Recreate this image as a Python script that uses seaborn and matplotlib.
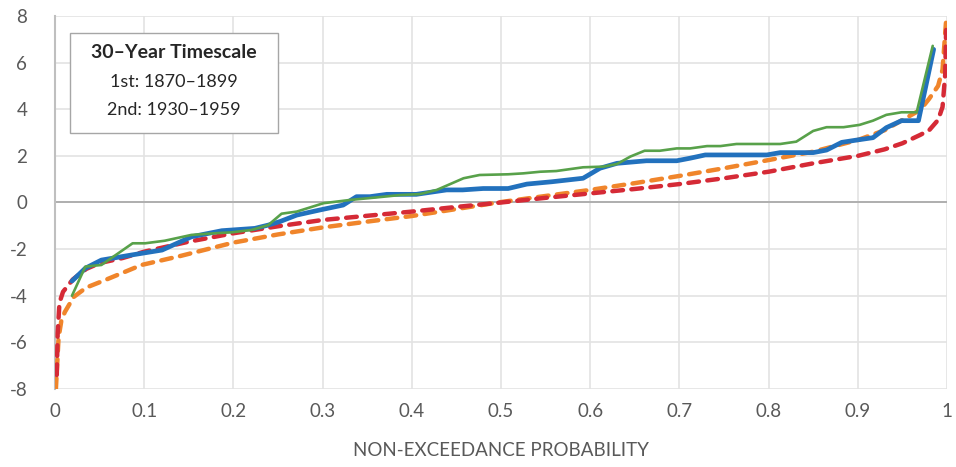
import numpy as np
import pandas as pd
import matplotlib
matplotlib.use("Agg")
import matplotlib.pyplot as plt
import seaborn as sns
from matplotlib.patches import Rectangle

# ---------------- data ----------------
blue_x = [0.019, 0.034, 0.052, 0.086, 0.120, 0.153, 0.187, 0.224, 0.239, 0.252, 0.271,
          0.297, 0.323, 0.338, 0.353, 0.372, 0.405, 0.439, 0.457, 0.480, 0.508, 0.529,
          0.557, 0.592, 0.611, 0.630, 0.663, 0.697, 0.712, 0.729, 0.798, 0.813, 0.850,
          0.865, 0.882, 0.899, 0.917, 0.932, 0.949, 0.968, 0.985]
blue_y = [-3.37, -2.82, -2.47, -2.25, -2.04, -1.47, -1.21, -1.11, -0.97, -0.82, -0.54,
          -0.32, -0.11, 0.25, 0.25, 0.35, 0.35, 0.54, 0.54, 0.60, 0.60, 0.79,
          0.89, 1.04, 1.47, 1.68, 1.79, 1.79, 1.90, 2.04, 2.04, 2.14, 2.14,
          2.25, 2.58, 2.68, 2.78, 3.21, 3.51, 3.51, 6.57]

green_x = [0.019, 0.034, 0.052, 0.087, 0.101, 0.123, 0.153, 0.179, 0.198, 0.220, 0.239,
           0.254, 0.271, 0.301, 0.331, 0.361, 0.387, 0.409, 0.428, 0.458, 0.476, 0.508,
           0.525, 0.544, 0.562, 0.592, 0.615, 0.630, 0.645, 0.661, 0.678, 0.697, 0.712,
           0.731, 0.746, 0.764, 0.813, 0.831, 0.850, 0.865, 0.884, 0.902, 0.917, 0.932,
           0.949, 0.966, 0.984]
green_y = [-4.00, -2.75, -2.68, -1.75, -1.75, -1.64, -1.39, -1.32, -1.28, -1.18, -0.97,
           -0.48, -0.39, -0.03, 0.11, 0.22, 0.32, 0.36, 0.54, 1.04, 1.18, 1.21,
           1.25, 1.32, 1.35, 1.51, 1.54, 1.65, 1.97, 2.22, 2.22, 2.32, 2.32,
           2.42, 2.42, 2.51, 2.51, 2.61, 3.07, 3.23, 3.23, 3.33, 3.51, 3.76,
           3.87, 3.87, 6.72]

orange_x = [0.001, 0.004, 0.007, 0.011, 0.021, 0.035, 0.056, 0.097, 0.14, 0.20, 0.25, 0.30,
            0.35, 0.40, 0.45, 0.50, 0.55, 0.60, 0.65, 0.70, 0.75, 0.80, 0.85, 0.90,
            0.93, 0.95, 0.97, 0.98, 0.99, 0.995, 0.999]
orange_y = [-8.0, -5.8, -5.1, -4.7, -4.05, -3.65, -3.33, -2.68, -2.30, -1.72, -1.37, -1.07,
            -0.82, -0.58, -0.28, 0.02, 0.28, 0.54, 0.83, 1.14, 1.47, 1.82, 2.18, 2.68,
            3.10, 3.54, 3.97, 4.45, 5.0, 5.7, 7.8]

red_x = [0.002, 0.003, 0.005, 0.009, 0.02, 0.035, 0.05, 0.076, 0.10, 0.15, 0.20, 0.25,
         0.30, 0.35, 0.40, 0.45, 0.50, 0.55, 0.60, 0.65, 0.70, 0.75, 0.80, 0.85, 0.90,
         0.93, 0.95, 0.97, 0.98, 0.99, 0.995, 0.998, 0.999]
red_y = [-7.4, -5.6, -4.3, -3.83, -3.3, -2.85, -2.6, -2.38, -2.11, -1.68, -1.32, -1.02,
         -0.75, -0.57, -0.39, -0.19, 0.0, 0.2, 0.39, 0.58, 0.79, 1.04, 1.32, 1.68, 2.0,
         2.28, 2.54, 2.9, 3.1, 3.54, 4.1, 5.5, 7.4]

xticks = [0, 0.1, 0.2, 0.3, 0.4, 0.5, 0.6, 0.7, 0.8, 0.9, 1]
xtick_labels = ["0", "0.1", "0.2", "0.3", "0.4", "0.5", "0.6", "0.7", "0.8", "0.9", "1"]
yticks = [-8, -6, -4, -2, 0, 2, 4, 6, 8]
ytick_labels = ["-8", "-6", "-4", "-2", "0", "2", "4", "6", "8"]
legend_title = "30\u2013Year Timescale"
legend_lines = ["1st: 1870\u20131899", "2nd: 1930\u20131959"]
xlabel = "NON-EXCEEDANCE PROBABILITY"

# ---------------- style ----------------
sns.set_style("white")
plt.rcParams["font.family"] = ["Lato", "DejaVu Sans"]

fig = plt.figure(figsize=(9.56, 4.67), dpi=100)
ax = fig.add_axes([55/956, 1-389/467, (947-55)/956, (389-16)/467])

C_BLUE = "#2271bd"
C_GREEN = "#58a14a"
C_ORANGE = "#f0852b"
C_RED = "#d52a36"

df_o = pd.DataFrame({"x": orange_x, "y": orange_y})
df_r = pd.DataFrame({"x": red_x, "y": red_y})
df_b = pd.DataFrame({"x": blue_x, "y": blue_y})
df_g = pd.DataFrame({"x": green_x, "y": green_y})

dash = (0, (2.4, 1.9))
sns.lineplot(data=df_o, x="x", y="y", ax=ax, color=C_ORANGE, lw=3.2,
             linestyle=dash, dash_capstyle="round", estimator=None, sort=False, zorder=3)
sns.lineplot(data=df_r, x="x", y="y", ax=ax, color=C_RED, lw=3.2,
             linestyle=dash, dash_capstyle="round", estimator=None, sort=False, zorder=4)
sns.lineplot(data=df_b, x="x", y="y", ax=ax, color=C_BLUE, lw=3.4,
             estimator=None, sort=False, zorder=5)
sns.lineplot(data=df_g, x="x", y="y", ax=ax, color=C_GREEN, lw=1.9,
             estimator=None, sort=False, zorder=6)

ax.set_xlim(0, 1)
ax.set_ylim(-8, 8)
ax.set_xticks(xticks)
ax.set_xticklabels(xtick_labels)
ax.set_yticks(yticks)
ax.set_yticklabels(ytick_labels)
ax.tick_params(axis="both", length=0, labelsize=13.5, colors="#595959")
ax.tick_params(axis="y", pad=20)
ax.tick_params(axis="x", pad=10)
ax.grid(True, color="#e3e3e3", lw=1.2, zorder=0)
ax.axhline(0, color="#a6a6a6", lw=1.2, zorder=1)
for s in ["top", "right", "bottom"]:
    ax.spines[s].set_visible(False)
ax.spines["left"].set_color("#bfbfbf")
ax.spines["left"].set_linewidth(1.5)
ax.set_xlabel(xlabel, fontsize=13.5, color="#595959", labelpad=16)
ax.set_ylabel("")

# legend-like text box
bx0, by0, bx1, by1 = 70, 33, 278, 133
fig.patches.append(Rectangle((bx0/956, 1-by1/467), (bx1-bx0)/956, (by1-by0)/467,
                             transform=fig.transFigure, facecolor="white",
                             edgecolor="#a6a6a6", lw=1.0, zorder=10))
cx = (bx0+bx1)/2/956
fig.text(cx, 1-53/467, legend_title, ha="center", va="center", fontsize=14,
         fontweight="bold", color="#262626", zorder=11)
fig.text(cx, 1-82/467, legend_lines[0], ha="center", va="center", fontsize=13,
         color="#262626", zorder=11)
fig.text(cx, 1-110/467, legend_lines[1], ha="center", va="center", fontsize=13,
         color="#262626", zorder=11)

fig.savefig("out.png", dpi=100)
